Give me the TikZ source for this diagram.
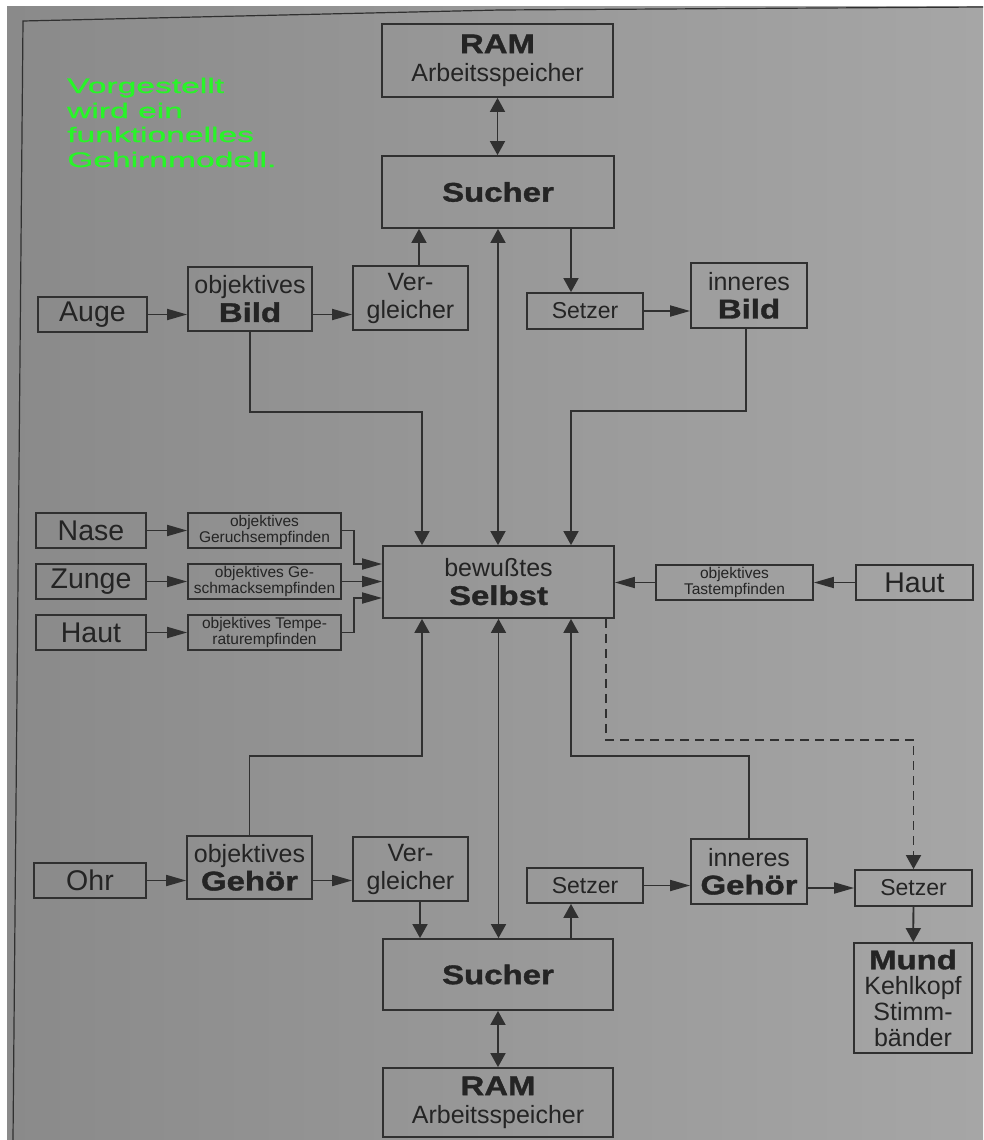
\documentclass[tikz,border=0pt]{standalone}
\usepackage{fontspec}
\setmainfont{Liberation Sans}
\newfontfamily\heavyfont{Liberation Sans Bold}[FakeBold=1.2]
\newfontfamily\greenfont{Liberation Sans}[FakeBold=0.8]
\usepackage{graphicx}
\usetikzlibrary{arrows.meta,calc}
\definecolor{pageL}{RGB}{138,138,138}
\definecolor{pageR}{RGB}{166,166,166}
\definecolor{ink}{RGB}{48,48,48}
\definecolor{txt}{RGB}{36,36,36}
\definecolor{grn}{RGB}{40,245,40}
\newcommand\wb[1]{{\fontsize{27}{28}\heavyfont\scalebox{1.22}[1]{#1}}}
\begin{document}
\begin{tikzpicture}[x=1pt,y=-1pt,
  box/.style={draw=ink,line width=1.8pt,inner sep=0pt,align=center,text=txt,font=\fontsize{25}{28}\selectfont},
  bigbox/.style={box,font=\fontsize{28.5}{30}\selectfont},
  setzbox/.style={box,font=\fontsize{23}{25}\selectfont},
  smallbox/.style={box,font=\fontsize{15.5}{16.3}\selectfont},
  conn/.style={draw=ink,line width=1.8pt},
  harr/.style={conn,-{Triangle[length=20pt,width=11pt]}},
  varr/.style={conn,-{Triangle[length=14pt,width=15pt]}},
  dvarr/.style={conn,{Triangle[length=14pt,width=15pt]}-{Triangle[length=14pt,width=15pt]}},
  greentext/.style={anchor=base west,inner sep=0pt,text=grn,font=\fontsize{21}{24}\greenfont}
]
\useasboundingbox (0,0) rectangle (983,1140);
\fill[white] (0,0) rectangle (983,1140);
\shade[left color=pageL,right color=pageR] (7,7) rectangle (983,1140);
\draw[ink,line width=1.2pt] (13,1140) -- (23,21) -- (500,10) -- (983,7);

% green caption
\node[greentext] (g1) at (67,93) {\scalebox{1.6}[1]{Vorgestellt}};
\node[greentext] (g2) at (67,118) {\scalebox{1.6}[1]{wird ein}};
\node[greentext] (g3) at (67,142) {\scalebox{1.6}[1]{funktionelles}};
\node[greentext] (g4) at (67,167) {\scalebox{1.6}[1]{Gehirnmodell.}};

% top part
\node[box,minimum width=231pt,minimum height=73pt] (ramT) at (497.5,60.5) {\wb{RAM}\\Arbeitsspeicher};
\node[box,minimum width=232pt,minimum height=72pt] (suchT) at (498,192) {\wb{Sucher}};
\node[bigbox,minimum width=109pt,minimum height=35pt] (auge) at (92.5,314.5) {Auge};
\node[box,minimum width=124pt,minimum height=64pt] (bildO) at (250,299) {objektives\\\wb{Bild}};
\node[box,minimum width=115pt,minimum height=64pt] (vergT) at (410.5,298) {Ver-\\gleicher};
\node[setzbox,minimum width=116pt,minimum height=36pt] (setzT) at (585,311) {Setzer};
\node[box,minimum width=116pt,minimum height=65pt] (bildI) at (749,295.5) {inneres\\\wb{Bild}};

% middle part
\node[bigbox,minimum width=110pt,minimum height=35pt] (nase) at (91,530.5) {Nase};
\node[bigbox,minimum width=110pt,minimum height=35pt] (zunge) at (91,581.5) {Zunge};
\node[bigbox,minimum width=110pt,minimum height=35pt] (hautL) at (91,632.5) {Haut};
\node[smallbox,minimum width=153pt,minimum height=35pt] (geruch) at (264.5,530.5) {objektives\\Geruchsempfinden};
\node[smallbox,minimum width=153pt,minimum height=35pt] (geschm) at (264.5,581.5) {objektives Ge-\\schmacksempfinden};
\node[smallbox,minimum width=153pt,minimum height=35pt] (temp) at (264.5,632.5) {objektives Tempe-\\raturempfinden};
\node[box,minimum width=231pt,minimum height=72pt] (selbst) at (498.5,582) {bewußtes\\\wb{Selbst}};
\node[smallbox,minimum width=157pt,minimum height=35pt] (tast) at (734.5,582.5) {objektives\\Tastempfinden};
\node[bigbox,minimum width=117pt,minimum height=35pt] (hautR) at (914.5,582.5) {Haut};

% bottom part
\node[bigbox,minimum width=112pt,minimum height=35pt] (ohr) at (90,880.5) {Ohr};
\node[box,minimum width=125pt,minimum height=63pt] (gehoerO) at (249.5,867.5) {objektives\\\wb{Gehör}};
\node[box,minimum width=115pt,minimum height=64pt] (vergB) at (410.5,869) {Ver-\\gleicher};
\node[setzbox,minimum width=116pt,minimum height=35pt] (setzB) at (585,885.5) {Setzer};
\node[box,minimum width=116pt,minimum height=65pt] (gehoerI) at (749,871.5) {inneres\\\wb{Gehör}};
\node[setzbox,minimum width=117pt,minimum height=36pt] (setzR) at (913.5,888) {Setzer};
\node[box,minimum width=118pt,minimum height=110pt,font=\fontsize{25}{25.6}\selectfont] (mund) at (913,998) {\wb{Mund}\\Kehlkopf\\Stimm-\\bänder};
\node[box,minimum width=230pt,minimum height=71pt] (suchB) at (498,974.5) {\wb{Sucher}};
\node[box,minimum width=230pt,minimum height=69pt] (ramB) at (498,1102.5) {\wb{RAM}\\Arbeitsspeicher};

% connectors top
\draw[dvarr] (ramT.south) -- (ramT.south |- suchT.north);
\coordinate (v1) at ([xshift=8.5pt]vergT.north);
\draw[varr] (v1) -- (v1 |- suchT.south);
\draw[dvarr] (suchT.south) -- (suchT.south |- selbst.north);
\coordinate (s1) at ([xshift=-14pt]setzT.north);
\draw[varr] (s1 |- suchT.south) -- (s1);
\draw[harr] (auge.east) -- (auge.east -| bildO.west);
\draw[harr] (auge.east -| bildO.east) -- (auge.east -| vergT.west);
\draw[harr] (setzT.east) -- (setzT.east -| bildI.west);
\draw[varr] (bildO.south) -- ++(0,80) -| ([xshift=-76.5pt]selbst.north);
\draw[varr] ([xshift=-3pt]bildI.south) -- ++(0,82) -| ([xshift=72.5pt]selbst.north);

% connectors middle
\draw[harr] (nase) -- (geruch);
\draw[harr] (zunge) -- (geschm);
\draw[harr] (hautL) -- (temp);
\draw[harr] (geruch.east) -- ++(12,0) |- ([yshift=18pt]selbst.west);
\draw[harr] (geschm.east) -- (geschm.east -| selbst.west);
\draw[harr] (temp.east) -- ++(12,0) |- ([yshift=-16pt]selbst.west);
\draw[harr] (hautR) -- (tast);
\draw[harr] (tast.west) -- (tast.west -| selbst.east);

% connectors bottom
\draw[varr] (gehoerO.north) -- ++(0,-79) -| ([xshift=-76.5pt]selbst.south);
\draw[dvarr] (selbst.south) -- (selbst.south |- suchB.north);
\draw[varr] (gehoerI.north) -- ++(0,-82) -| ([xshift=72.5pt]selbst.south);
\draw[varr,dash pattern=on 9pt off 6pt] ([xshift=107.5pt]selbst.south) -- ++(0,121) -| (setzR.north);
\draw[harr] (ohr.east) -- (ohr.east -| gehoerO.west);
\draw[harr] (ohr.east -| gehoerO.east) -- (ohr.east -| vergB.west);
\coordinate (v2) at ([xshift=9.5pt]vergB.south);
\draw[varr] (v2) -- (v2 |- suchB.north);
\coordinate (s2) at ([xshift=-14pt]setzB.south);
\draw[varr] (s2 |- suchB.north) -- (s2);
\draw[harr] (setzB.east) -- (setzB.east -| gehoerI.west);
\draw[harr] (gehoerI.east |- setzR.west) -- (setzR.west);
\draw[varr] (setzR) -- (mund);
\draw[dvarr] (suchB.south) -- (suchB.south |- ramB.north);
\end{tikzpicture}
\end{document}
